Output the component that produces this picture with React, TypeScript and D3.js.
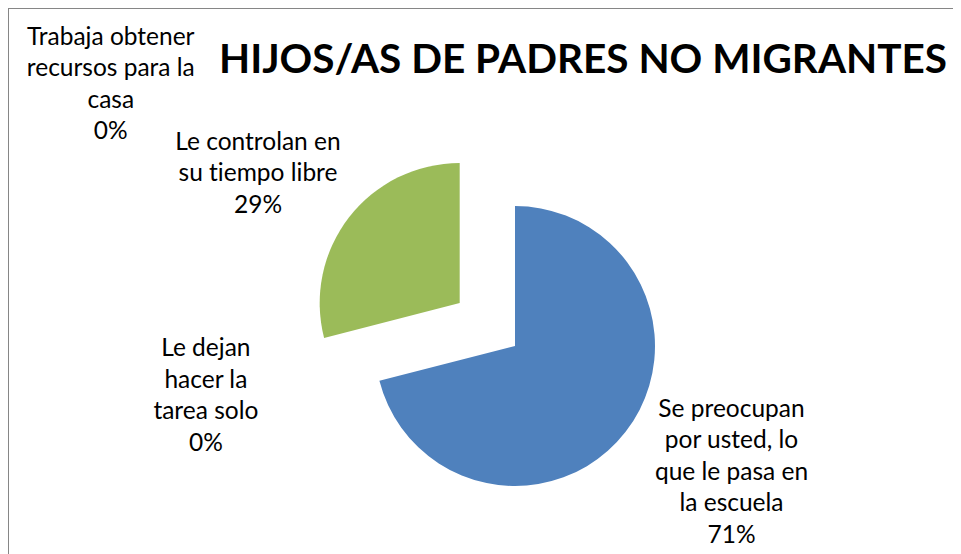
import React, { useRef, useEffect } from 'react'
import * as d3 from 'd3'

const categories = [
  'Se preocupan por usted, lo que le pasa en la escuela',
  'Le dejan hacer la tarea solo',
  'Le controlan en su tiempo libre',
  'Trabaja obtener recursos para la casa',
]
const values = [71, 0, 29, 0]
const labelLines = [
  ['Se preocupan', 'por usted, lo', 'que le pasa en', 'la escuela'],
  ['Le dejan', 'hacer la', 'tarea solo'],
  ['Le controlan en', 'su tiempo libre'],
  ['Trabaja obtener', 'recursos para la', 'casa'],
]
const colors = ['#4F81BD', '#C0504D', '#9BBB59', '#8064A2']
const title = 'HIJOS/AS DE PADRES NO MIGRANTES'

// label placement: polar angle (deg, clockwise from 12) and distance from pie centre
const labelPolar = [
  [120, 250],
  [261, 313],
  [304, 310],
  [303, 482],
]
const explode = [0, 0, 70, 0]

export default function App() {
  const ref = useRef<SVGSVGElement>(null)

  useEffect(() => {
    const svg = d3.select(ref.current)
    svg.selectAll('*').remove()

    // page coords -> svg coords (body margin is 8px)
    const g = svg.append('g').attr('transform', 'translate(-8,-8)')

    g.append('rect')
      .attr('x', 8.5)
      .attr('y', 8.5)
      .attr('width', 1000)
      .attr('height', 1000)
      .attr('fill', '#fff')
      .attr('stroke', '#868686')
      .attr('stroke-width', 1)

    const font = 'Lato, "Open Sans", sans-serif'

    g.append('text')
      .attr('x', 583)
      .attr('y', 73)
      .attr('text-anchor', 'middle')
      .attr('font-family', font)
      .attr('font-weight', 'bold')
      .attr('font-size', 40.5)
      .attr('fill', '#000')
      .style('font-variant-ligatures', 'none')
      .text(title)

    const cx = 515
    const cy = 346
    const radius = 140

    const pie = d3.pie<number>().sort(null).value(d => d)
    const arcs = pie(values)
    const arc = d3.arc<d3.PieArcDatum<number>>().innerRadius(0).outerRadius(radius)

    const pieG = g.append('g').attr('transform', `translate(${cx},${cy})`)

    pieG.selectAll('path')
      .data(arcs)
      .enter()
      .append('path')
      .attr('d', d => arc(d) as string)
      .attr('fill', (d, i) => colors[i])
      .attr('transform', (d, i) => {
        const mid = (d.startAngle + d.endAngle) / 2
        const off = explode[i]
        return `translate(${Math.sin(mid) * off},${-Math.cos(mid) * off})`
      })

    const lineH = 31.5
    arcs.forEach((d, i) => {
      const [angDeg, dist] = labelPolar[i]
      const a = (angDeg * Math.PI) / 180
      const lx = Math.sin(a) * dist
      const ly = -Math.cos(a) * dist
      const lines = [...labelLines[i], `${Math.round(values[i])}%`]
      const top = ly - ((lines.length - 1) * lineH) / 2
      const t = pieG.append('text')
        .attr('text-anchor', 'middle')
        .attr('font-family', font)
        .attr('font-size', 24.5)
        .attr('fill', '#000')
        .style('font-variant-ligatures', 'none')
      lines.forEach((ln, k) => {
        t.append('tspan')
          .attr('x', lx)
          .attr('y', top + k * lineH)
          .attr('dy', '0.35em')
          .text(ln)
      })
    })
  }, [])

  return (
    <svg ref={ref} width={953} height={546} style={{ display: 'block' }} />
  )
}
